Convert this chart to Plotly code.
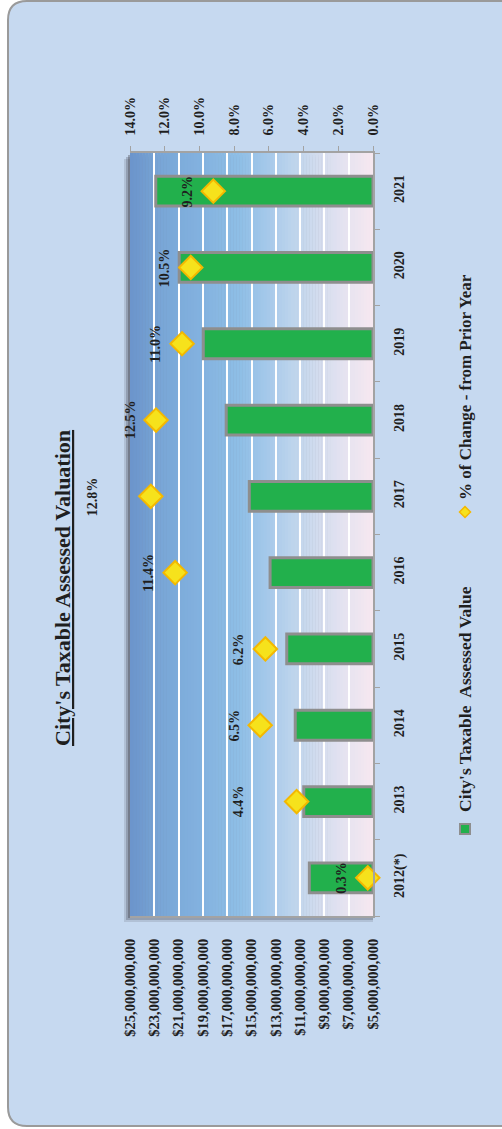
import plotly.graph_objects as go

# ---------------- data ----------------
years = ["2012(*)", "2013", "2014", "2015", "2016", "2017", "2018", "2019", "2020", "2021"]
assessed_value = [10.24e9, 10.70e9, 11.40e9, 12.10e9, 13.47e9, 15.18e9, 17.08e9, 18.97e9, 20.95e9, 22.88e9]
pct_change = [0.003, 0.044, 0.065, 0.062, 0.114, 0.128, 0.125, 0.110, 0.105, 0.092]
value_ticks = [5e9, 7e9, 9e9, 11e9, 13e9, 15e9, 17e9, 19e9, 21e9, 23e9, 25e9]
value_tick_labels = ["$" + f"{v:,.0f}" for v in value_ticks]
pct_ticks = [0.0, 0.02, 0.04, 0.06, 0.08, 0.10, 0.12, 0.14]
title_text = "City's Taxable Assessed Valuation"
legend_bar = "City's Taxable\u00a0 Assessed Value"
legend_pct = "% of Change - from Prior Year"

# ---------------- layout geometry (pixels) ----------------
W, H = 502, 1129
L, R, T, B = 130, 129, 153, 213
PW, PH = W - L - R, H - T - B
FONT = "Liberation Serif"
TXT = "#1f1f1f"


def px(X):
    return (X - L) / PW


def py(Y):
    return (H - B - Y) / PH


pos = list(range(len(years)))

fig = go.Figure()

fig.add_trace(go.Bar(
    y=pos, x=[v - 5e9 for v in assessed_value], base=5e9, orientation="h",
    width=0.39,
    marker=dict(color="#22b04c", line=dict(color="#8e8e8e", width=3)),
    xaxis="x", yaxis="y", showlegend=False, hoverinfo="skip",
))

fig.add_trace(go.Scatter(
    y=pos, x=pct_change, mode="markers",
    marker=dict(symbol="diamond", size=18, color="#f6e21c",
                line=dict(color="#f4b800", width=2)),
    xaxis="x2", yaxis="y", showlegend=False, hoverinfo="skip", cliponaxis=False,
))

shapes = []
# outer rounded panel
pts = [(8, 20), (8, 1), (27, 1), (530, 1), (530, 1126), (27, 1126), (8, 1126), (8, 1107)]
P = [(px(a), py(b)) for a, b in pts]
path = (f"M {P[0][0]},{P[0][1]} Q {P[1][0]},{P[1][1]} {P[2][0]},{P[2][1]} "
        f"L {P[3][0]},{P[3][1]} L {P[4][0]},{P[4][1]} L {P[5][0]},{P[5][1]} "
        f"Q {P[6][0]},{P[6][1]} {P[7][0]},{P[7][1]} Z")
shapes.append(dict(type="path", xref="paper", yref="paper", path=path,
                   fillcolor="#c6d9f0", line=dict(color="#9a9a9a", width=2), layer="below"))

# plot-area shadow
for off, op in [(6, 0.15), (4, 0.25), (2, 0.35)]:
    shapes.append(dict(type="rect", xref="paper", yref="paper",
                       x0=px(L - off), x1=px(L + PW), y0=py(H - B + off), y1=py(T + off),
                       fillcolor=f"rgba(60,60,70,{op})", line=dict(width=0), layer="below"))

# gradient plot background
stops = [(0.0, (0x6b, 0x94, 0xcb)), (0.12, (0x78, 0xa5, 0xd6)), (0.29, (0x83, 0xb2, 0xdf)),
         (0.45, (0x8e, 0xbe, 0xe6)), (0.56, (0xa4, 0xc8, 0xea)), (0.66, (0xbb, 0xd3, 0xec)),
         (0.76, (0xd0, 0xdb, 0xee)), (0.87, (0xe3, 0xe2, 0xf0)), (1.0, (0xf7, 0xe8, 0xf0))]


def col(f):
    for (f0, c0), (f1, c1) in zip(stops[:-1], stops[1:]):
        if f0 <= f <= f1:
            t = (f - f0) / (f1 - f0)
            return "rgb(%d,%d,%d)" % tuple(round(a + (b - a) * t) for a, b in zip(c0, c1))
    return "rgb(%d,%d,%d)" % stops[-1][1]


N = 80
for i in range(N):
    shapes.append(dict(type="rect", xref="paper", yref="paper",
                       x0=i / N, x1=min(1, (i + 1) / N + 0.002), y0=0, y1=1,
                       fillcolor=col((i + 0.5) / N), line=dict(width=0), layer="below"))

# legend symbols
shapes.append(dict(type="rect", xref="paper", yref="paper",
                   x0=px(460), x1=px(470), y0=py(834), y1=py(824),
                   fillcolor="#22b04c", line=dict(color="#8e8e8e", width=2)))
dx, dy = 5.5, 5.5
cx, cy = 465, 512
shapes.append(dict(type="path", xref="paper", yref="paper",
                   path=f"M {px(cx-dx)},{py(cy)} L {px(cx)},{py(cy-dy)} L {px(cx+dx)},{py(cy)} L {px(cx)},{py(cy+dy)} Z",
                   fillcolor="#f6e21c", line=dict(color="#f4b800", width=1.5)))

annotations = []
# data labels
label_shift = {"2013": -58, "2017": -58}
for yr, yv, p in zip(years, pos, pct_change):
    annotations.append(dict(x=p, y=yv, xref="x2", yref="y", text=f"<b>{p*100:.1f}%</b>",
                            showarrow=False, textangle=-90, xshift=label_shift.get(yr, -26),
                            xanchor="center", yanchor="middle",
                            font=dict(family=FONT, size=14, color=TXT)))
# title
annotations.append(dict(x=px(62), y=py(588), xref="paper", yref="paper",
                        text=f"<b><u>{title_text}</u></b>", showarrow=False, textangle=-90,
                        xanchor="center", yanchor="middle",
                        font=dict(family=FONT, size=22, color=TXT)))
# legend texts
annotations.append(dict(x=px(465), y=py(699), xref="paper", yref="paper",
                        text=f"<b>{legend_bar}</b>", showarrow=False, textangle=-90,
                        xanchor="center", yanchor="middle",
                        font=dict(family=FONT, size=17.5, color=TXT)))
annotations.append(dict(x=px(465), y=py(387), xref="paper", yref="paper",
                        text=f"<b>{legend_pct}</b>", showarrow=False, textangle=-90,
                        xanchor="center", yanchor="middle",
                        font=dict(family=FONT, size=17, color=TXT)))

fig.update_layout(
    width=W, height=H,
    margin=dict(l=L, r=R, t=T, b=B, pad=0),
    paper_bgcolor="white", plot_bgcolor="rgba(0,0,0,0)",
    shapes=shapes, annotations=annotations,
    xaxis=dict(range=[25e9, 5e9], tickvals=value_ticks,
               ticktext=[f"<b>{t}</b>" for t in value_tick_labels],
               tickangle=-90, showgrid=True, gridcolor="white", gridwidth=1.5,
               showline=True, linecolor="#a3a3a3", linewidth=2, ticks="",
               ticklabelstandoff=15, zeroline=False, fixedrange=True,
               tickfont=dict(family=FONT, size=14.5, color=TXT)),
    xaxis2=dict(overlaying="x", side="top", anchor="y", range=[0.14, 0],
                tickvals=pct_ticks, ticktext=[f"<b>{v*100:.1f}%</b>" for v in pct_ticks],
                tickangle=-90,
                showgrid=False, zeroline=False, showline=True, linecolor="#a3a3a3",
                linewidth=1.5, ticks="outside", ticklen=5, tickcolor="#a3a3a3",
                ticklabelstandoff=8, fixedrange=True,
                tickfont=dict(family=FONT, size=14, color=TXT)),
    yaxis=dict(range=[-0.5, len(years) - 0.5], side="right", tickangle=-90,
               tickvals=pos, ticktext=[f"<b>{y}</b>" for y in years],
               ticks="", showline=True, fixedrange=True,
               minor=dict(tickmode="array", tickvals=[p - 0.5 for p in pos] + [pos[-1] + 0.5],
                          ticks="outside", ticklen=5, tickcolor="#a3a3a3", showgrid=False),
               linecolor="#a3a3a3", linewidth=1.5, showgrid=False, zeroline=False,
               ticklabelstandoff=12,
               tickfont=dict(family=FONT, size=14, color=TXT)),
)

fig.write_html("out.html", config={"displayModeBar": False},
               post_script="document.body.style.margin='0';document.body.style.overflow='hidden';")
